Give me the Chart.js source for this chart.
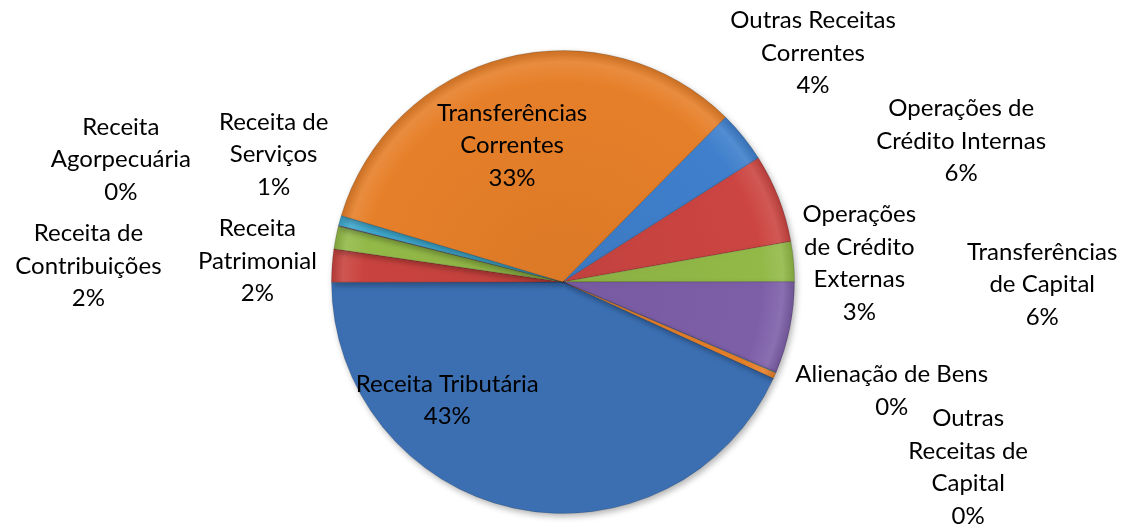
<!DOCTYPE html>
<html>
<head>
<meta charset="utf-8">
<script src="https://cdn.jsdelivr.net/npm/chart.js@4.4.0/dist/chart.umd.min.js"></script>
<style>
  html, body { margin: 0; padding: 0; background: #ffffff; }
  #wrap { width: 1130px; height: 527px; position: relative; }
</style>
</head>
<body>
<div id="wrap"><canvas id="grafico"></canvas></div>
<script>
// categorias (cada item = linhas do rótulo)
const categorias = [
  ['Receita Tributária'],
  ['Receita de', 'Contribuições'],
  ['Receita', 'Patrimonial'],
  ['Receita', 'Agorpecuária'],
  ['Receita de', 'Serviços'],
  ['Transferências', 'Correntes'],
  ['Outras Receitas', 'Correntes'],
  ['Operações de', 'Crédito Internas'],
  ['Operações', 'de Crédito', 'Externas'],
  ['Transferências', 'de Capital'],
  ['Alienação de Bens'],
  ['Outras', 'Receitas de', 'Capital']
];

// participação (%)
const valores = [43.2, 2.3, 1.6, 0.05, 0.7, 32.8, 3.6, 6.2, 2.8, 6.4, 0.05, 0.4];

const cores = ['#3b6fb2', '#c9433f', '#93b948', '#7d5fa8', '#3fa9cf', '#e67f29',
               '#3f7fcc', '#cc4542', '#93b948', '#7d5fa8', '#3fa9cf', '#e67f29'];

// posição do centro de cada rótulo, em raios a partir do centro da pizza
const posRotulos = [
  [-0.50, 0.51], [-2.05, -0.07], [-1.32, -0.09], [-1.91, -0.53],
  [-1.25, -0.55], [-0.22, -0.59], [1.08, -0.99], [1.72, -0.61],
  [1.28, -0.08], [2.07, 0.01], [1.42, 0.47], [1.75, 0.80]
];

function clarear(hex, f) {
  const n = parseInt(hex.slice(1), 16);
  let r = (n >> 16) & 255, g = (n >> 8) & 255, b = n & 255;
  const mix = c => f >= 0 ? Math.round(c + (255 - c) * f) : Math.round(c * (1 + f));
  return `rgb(${mix(r)},${mix(g)},${mix(b)})`;
}

function preenchimento(context) {
  const chart = context.chart;
  const base = cores[context.dataIndex];
  const arc = chart.getDatasetMeta(0).data[0];
  if (!arc || !arc.outerRadius) return base;
  const { x, y, outerRadius } = arc;
  const g = chart.ctx.createRadialGradient(x, y, 0, x, y, outerRadius);
  g.addColorStop(0, clarear(base, -0.05));
  g.addColorStop(0.86, base);
  g.addColorStop(0.95, clarear(base, 0.1));
  g.addColorStop(1, clarear(base, -0.12));
  return g;
}

const total = valores.reduce((a, b) => a + b, 0);

const rotulosPlugin = {
  id: 'rotulos',
  beforeDatasetsDraw(chart) {
    const ctx = chart.ctx;
    ctx.save();
    ctx.shadowColor = 'rgba(0,0,0,0.3)';
    ctx.shadowBlur = 6;
    ctx.shadowOffsetX = 2;
    ctx.shadowOffsetY = 3;
  },
  afterDatasetsDraw(chart) {
    const ctx = chart.ctx;
    ctx.restore();
    const arc = chart.getDatasetMeta(0).data[0];
    const cx = arc.x, cy = arc.y, r = arc.outerRadius;
    ctx.save();
    ctx.font = '24px Lato, sans-serif';
    ctx.fillStyle = '#000000';
    ctx.textAlign = 'center';
    ctx.textBaseline = 'middle';
    const alt = 32.5;
    categorias.forEach((linhas, i) => {
      const pct = Math.round(valores[i] / total * 100) + '%';
      const todas = linhas.concat([pct]);
      const px = cx + posRotulos[i][0] * r;
      const py = cy + posRotulos[i][1] * r - (todas.length - 1) * alt / 2;
      todas.forEach((t, k) => ctx.fillText(t, px, py + k * alt));
    });
    ctx.restore();
  }
};

new Chart(document.getElementById('grafico'), {
  type: 'pie',
  data: {
    labels: categorias.map(l => l.join(' ')),
    datasets: [{
      data: valores,
      backgroundColor: preenchimento,
      borderColor: 'rgba(0,0,0,0.15)',
      borderWidth: 1
    }]
  },
  options: {
    responsive: true,
    maintainAspectRatio: false,
    animation: false,
    rotation: 114.6,
    layout: { padding: { top: 50, bottom: 13, left: 0, right: 4 } },
    plugins: {
      legend: { display: false },
      tooltip: { enabled: false }
    }
  },
  plugins: [rotulosPlugin]
});
</script>
</body>
</html>
